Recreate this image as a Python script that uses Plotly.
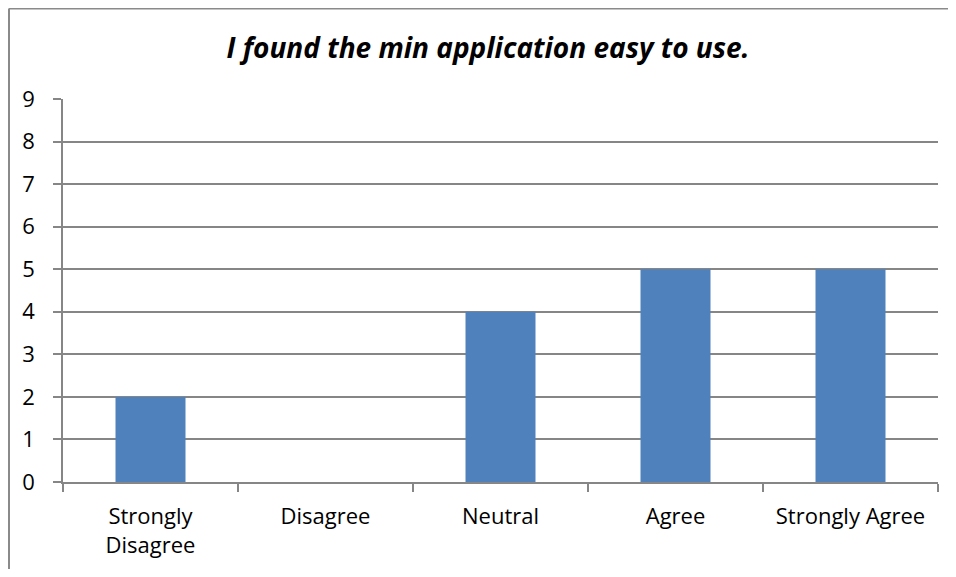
import plotly.graph_objects as go

categories = ["Strongly<br>Disagree", "Disagree", "Neutral", "Agree", "Strongly Agree"]
values = [2, 0, 4, 5, 5]
y_ticks = [0, 1, 2, 3, 4, 5, 6, 7, 8, 9]
title_text = "I found the min application easy to use."

# figure sits at (8, 8) in the page because of the default body margin
W, H = 940, 561
L, R, T, B = 55, 10, 91, 85
pw = W - L - R
ph = H - T - B

fig = go.Figure(go.Bar(x=categories, y=values, marker=dict(color="#4F81BD", line=dict(width=0)),
                       width=0.4))

grid = "#868686"
fig.update_layout(
    width=W, height=H,
    margin=dict(l=L, r=R, t=T, b=B),
    paper_bgcolor="white", plot_bgcolor="white",
    font=dict(family="Open Sans, sans-serif", size=22, color="#000000"),
    title=dict(text="<b><i>" + title_text + "</i></b>", x=480 / W, xanchor="center",
               y=1 - 40 / H, yanchor="middle", font=dict(size=28, family="Open Sans, sans-serif")),
    showlegend=False,
    xaxis=dict(type="category", showline=True, linecolor=grid, linewidth=1.5,
               ticks="outside", tickson="boundaries", ticklen=8, tickcolor=grid, tickwidth=1.5,
               showgrid=False, tickfont=dict(size=22), ticklabelstandoff=14),
    yaxis=dict(range=[0, 9], tickvals=y_ticks, showline=True, linecolor=grid, linewidth=1.5,
               ticks="outside", ticklen=8, tickcolor=grid, tickwidth=1.5,
               showgrid=True, gridcolor=grid, gridwidth=1.5, zeroline=False,
               tickfont=dict(size=22), ticklabelstandoff=14),
)

# outer chart border (only top and left edges visible in the window)
x_left = (1 - L) / pw
y_top = (H - B - 0) / ph
x_right = (W + 20 - L) / pw
y_bot = -(B + 20) / ph
fig.add_shape(type="line", xref="paper", yref="paper", x0=x_left, x1=x_left, y0=y_bot, y1=y_top,
              line=dict(color="#8a8a8a", width=2), layer="below")
fig.add_shape(type="line", xref="paper", yref="paper", x0=x_left, x1=x_right, y0=y_top, y1=y_top,
              line=dict(color="#8a8a8a", width=2), layer="below")

fig.write_html("out.html")
